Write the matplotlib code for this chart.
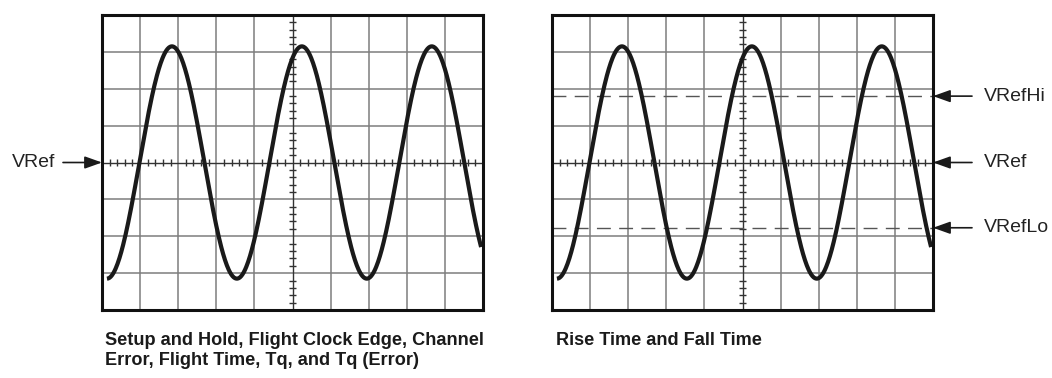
import numpy as np
import matplotlib
matplotlib.use("Agg")
import matplotlib.pyplot as plt
from matplotlib import font_manager

# Screen graticule: 10 x 8 divisions
n_cols = 10
n_rows = 8

# Waveform (in divisions)
wave_amplitude = 3.15
wave_period = 3.41
wave_first_trough = 0.13
wave_end = 9.95

# Reference levels (divisions from centre)
vref = 0.0
vref_hi = 1.8
vref_lo = -1.77

left_caption = "Setup and Hold, Flight Clock Edge, Channel\nError, Flight Time, Tq, and Tq (Error)"
right_caption = "Rise Time and Fall Time"
right_labels = ["VRefHi", "VRef", "VRefLo"]
right_levels = [vref_hi, vref, vref_lo]

W, H = 1052, 378

installed = {f.name for f in font_manager.fontManager.ttflist}
if "Liberation Sans Narrow" in installed:
    font = "Liberation Sans Narrow"
    label_size, cap_size = 16.5, 16.0
else:
    font = "Liberation Sans"
    label_size, cap_size = 14.0, 13.1
plt.rcParams["font.family"] = [font, "DejaVu Sans"]

fig = plt.figure(figsize=(W / 100, H / 100), dpi=100)


def px(x):
    return x / W


def py(y):
    return 1 - y / H


def scope(x0):
    ax = fig.add_axes([px(x0), py(310), px(381), 295 / H])
    ax.set_xlim(0, n_cols)
    ax.set_ylim(-n_rows / 2, n_rows / 2)
    ax.set_xticks([])
    ax.set_yticks([])
    for s in ax.spines.values():
        s.set_linewidth(2.2)
        s.set_color("#111111")
        s.set_zorder(10)
    for c in range(1, n_cols):
        if c != n_cols // 2:
            ax.axvline(c, color="#7d7d7d", lw=1.1, zorder=1)
    for r in range(1, n_rows):
        if r != n_rows // 2:
            ax.axhline(r - n_rows / 2, color="#7d7d7d", lw=1.1, zorder=1)
    ax.axvline(n_cols / 2, color="#333333", lw=1.0, zorder=2)
    ax.axhline(0, color="#333333", lw=1.0, zorder=2)
    # minor ticks on the centre lines
    xt = np.arange(0.2, n_cols, 0.2)
    xt = xt[np.abs(xt - np.round(xt)) > 0.05]
    ax.vlines(xt, -0.1, 0.1, color="#333333", lw=1.0, zorder=2)
    yt = np.arange(-n_rows / 2 + 0.2, n_rows / 2, 0.2)
    yt = yt[np.abs(yt - np.round(yt)) > 0.05]
    ax.hlines(yt, n_cols / 2 - 0.1, n_cols / 2 + 0.1, color="#333333", lw=1.0, zorder=2)
    x = np.linspace(wave_first_trough, wave_end, 600)
    y = -wave_amplitude * np.cos(2 * np.pi * (x - wave_first_trough) / wave_period)
    ax.plot(x, y, color="#1a1a1a", lw=3.0, solid_capstyle="butt", zorder=5)
    return ax


arrow_kw = dict(arrowstyle="-|>,head_length=0.7,head_width=0.25", mutation_scale=15,
                color="#1a1a1a", lw=1.2, shrinkA=0, shrinkB=0)

# Left scope
ax1 = scope(102)
ax1.annotate("", xy=(0, vref), xytext=(px(63), 0), xycoords="data",
             textcoords=("figure fraction", "data"), arrowprops=arrow_kw,
             annotation_clip=False)
ax1.text(-47 / 38.1, vref, "VRef", ha="right", va="center", fontsize=label_size,
         color="#222222")
fig.text(px(105), py(332), left_caption, ha="left", va="top", fontsize=cap_size,
         fontweight="bold", linespacing=1.22, color="#1a1a1a")

# Right scope
ax2 = scope(552)
for lvl in [vref_hi, vref_lo]:
    ax2.plot([0, n_cols], [lvl, lvl], color="#555555", lw=1.0, dashes=(10, 6), zorder=3)
for lab, lvl in zip(right_labels, right_levels):
    ax2.annotate("", xy=(n_cols, lvl), xytext=(px(972), lvl), xycoords="data",
                 textcoords=("figure fraction", "data"), arrowprops=arrow_kw,
                 annotation_clip=False)
    ax2.text(n_cols + 51 / 38.1, lvl, lab, ha="left", va="center", fontsize=label_size,
             color="#222222", clip_on=False)
fig.text(px(556), py(332), right_caption, ha="left", va="top", fontsize=cap_size,
         fontweight="bold", color="#1a1a1a")

fig.savefig("out.png", dpi=100)
